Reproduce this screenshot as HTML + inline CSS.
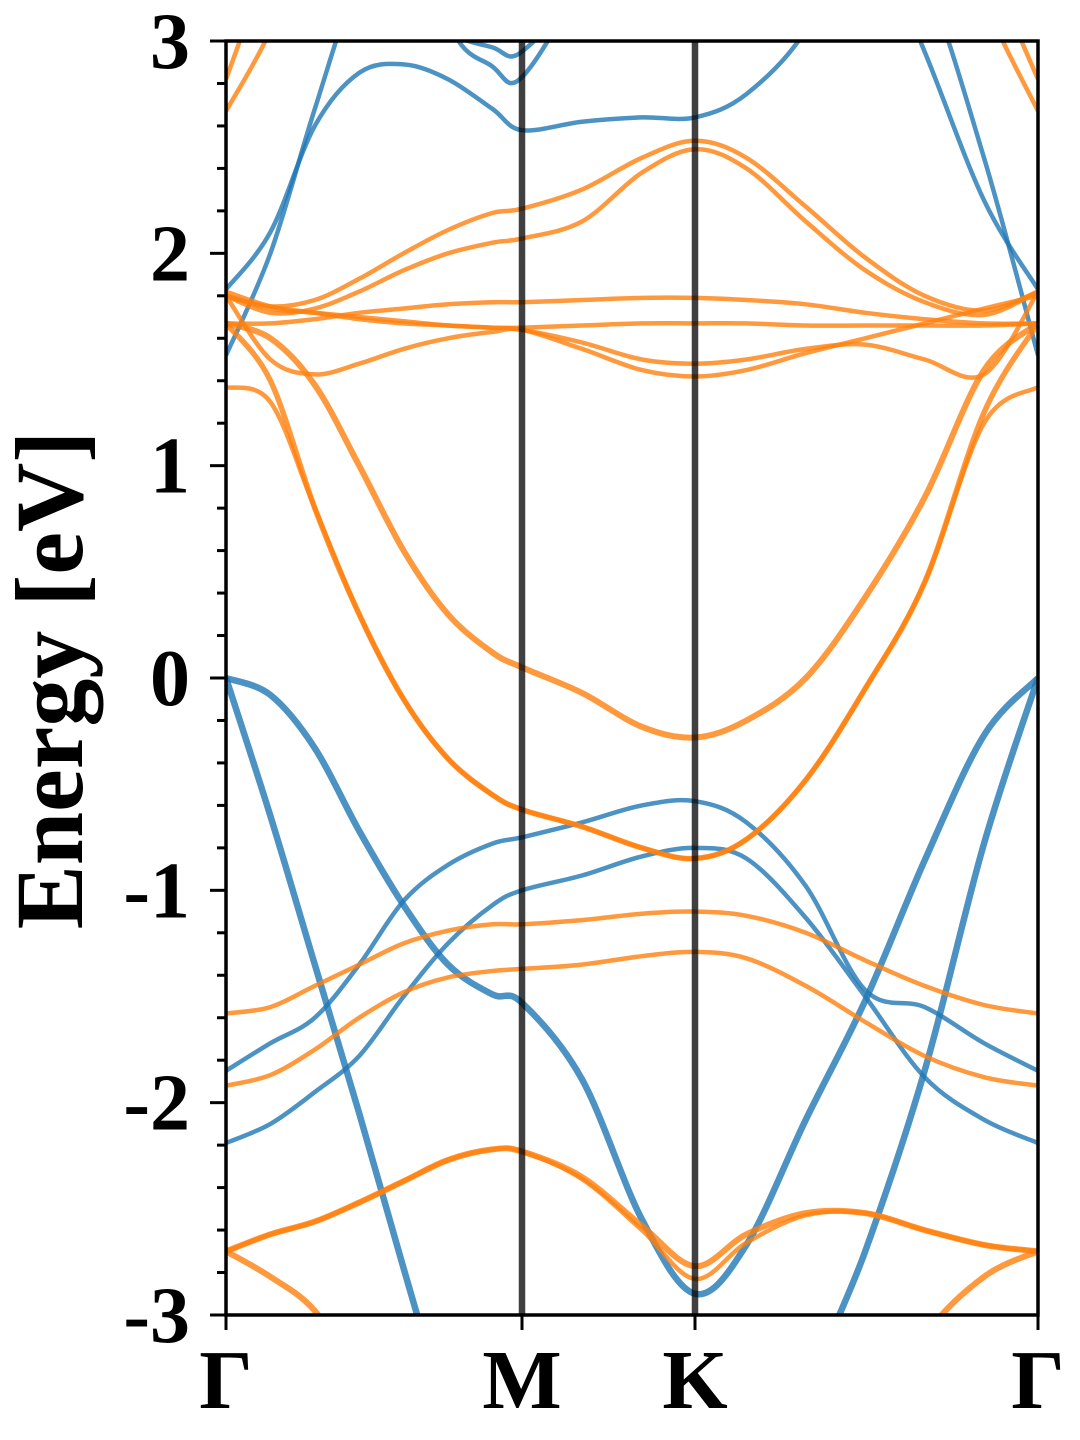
<!DOCTYPE html>
<html><head><meta charset="utf-8">
<style>
html,body{margin:0;padding:0;background:#fff;width:1080px;height:1440px;overflow:hidden;}
svg{display:block;}
text{font-family:"Liberation Serif",serif;font-weight:bold;fill:#000;}
</style></head>
<body>
<svg id="chart" width="1080" height="1440" viewBox="0 0 1080 1440" xmlns="http://www.w3.org/2000/svg">
<defs><clipPath id="plotclip"><rect x="226" y="41" width="812" height="1274"/></clipPath></defs>
<g id="bands" clip-path="url(#plotclip)"></g>
<g id="vlines"></g>
<rect x="226" y="41" width="812" height="1274" fill="none" stroke="#000" stroke-width="3.5"/>
<g id="axes"></g>
<text transform="translate(82,680) rotate(-90)" text-anchor="middle" font-size="96">Energy [eV]</text>
</svg>
<script>
const kGrid = [0,0.15,0.3,0.45,0.6,0.75,0.9,1.0,1.2,1.4,1.577,1.75,1.95,2.15,2.35,2.55,2.732];
const kLabels = ["Γ","M","K","Γ"];
const kLabelPos = [0,1.0,1.577,2.732];
const yTicks = [3,2,1,0,-1,-2,-3];
const yTickLabels = ["3","2","1","0","-1","-2","-3"];

const blueHeavyA = [0,-0.08,-0.33,-0.72,-1.07,-1.35,-1.49,-1.53,-1.89,-2.55,-2.9,-2.67,-2.08,-1.52,-0.86,-0.27,0];
const blueHeavyB = [0,-0.65,-1.35,-2.05,-2.78,-3.5,-4.2,-4.5,-4.6,-4.6,-4.6,-4.4,-3.4,-2.7,-1.85,-0.78,0];
const blueC = [-1.85,-1.72,-1.6,-1.35,-1.05,-0.88,-0.78,-0.75,-0.68,-0.6,-0.58,-0.68,-0.98,-1.47,-1.55,-1.72,-1.85];
const blueD = [-2.19,-2.1,-1.95,-1.78,-1.5,-1.25,-1.07,-1.0,-0.93,-0.84,-0.8,-0.85,-1.13,-1.5,-1.88,-2.08,-2.19];
const blueU1 = [1.52,2.0,2.68,3.3,3.6,3.8,3.9,4,4,4,4,4,4,3.7,3.3,2.45,1.52];
const blueU2 = [1.83,2.1,2.6,2.85,2.89,2.82,2.68,2.58,2.62,2.64,2.64,2.75,3.05,3.6,4,4,4];
const blueU5 = [4,4,4,4,4,4,4,4,4,4,4,4,4,3.6,2.95,2.25,1.83];
const blueU3 = [4,4,4,4,3.3,3.05,2.97,2.95,3.3,4,4,4,4,4,4,4,4];
const blueU4 = [4,4,4,4,4,3.1,2.88,2.83,3.3,4,4,4,4,4,4,4,4];

const orange1 = [1.67,1.6,1.38,1.0,0.6,0.3,0.12,0.05,-0.07,-0.23,-0.28,-0.2,0.0,0.38,0.85,1.45,1.67];
const orange2 = [1.67,1.4,0.8,0.3,-0.1,-0.38,-0.55,-0.62,-0.7,-0.8,-0.85,-0.76,-0.48,-0.05,0.45,1.25,1.67];
const orange3 = [1.37,1.3,0.8,0.3,-0.1,-0.38,-0.55,-0.62,-0.7,-0.8,-0.85,-0.76,-0.48,-0.05,0.45,1.2,1.37];
const orange4 = [1.67,1.67,1.69,1.72,1.74,1.76,1.77,1.77,1.78,1.79,1.79,1.78,1.76,1.72,1.69,1.67,1.67];
const orange5 = [1.82,1.75,1.72,1.69,1.67,1.66,1.65,1.65,1.66,1.67,1.67,1.67,1.66,1.66,1.66,1.66,1.67];
const orange6 = [1.8,1.5,1.43,1.48,1.55,1.6,1.63,1.64,1.55,1.45,1.42,1.45,1.53,1.6,1.67,1.74,1.8];
const orange7 = [1.8,1.74,1.72,1.7,1.68,1.66,1.65,1.64,1.58,1.5,1.48,1.5,1.55,1.57,1.5,1.43,1.82];
const orange8 = [1.8,1.75,1.78,1.88,2.0,2.11,2.19,2.21,2.3,2.45,2.53,2.45,2.22,1.98,1.8,1.73,1.82];
const orange9 = [1.8,1.72,1.74,1.82,1.92,2.0,2.05,2.07,2.15,2.38,2.49,2.4,2.15,1.92,1.77,1.71,1.82];
const orange10 = [2.82,3.4,4,4,4,4,4,4,4,4,4,4,4,4,4,3.4,2.82];
const orange11 = [2.67,3.05,3.6,4,4,4,4,4,4,4,4,4,4,4,4,3.2,2.67];
const orange12 = [-1.58,-1.55,-1.45,-1.35,-1.25,-1.19,-1.16,-1.16,-1.14,-1.11,-1.1,-1.12,-1.2,-1.33,-1.45,-1.54,-1.58];
const orange13 = [-1.92,-1.87,-1.75,-1.6,-1.48,-1.41,-1.38,-1.37,-1.35,-1.31,-1.29,-1.32,-1.45,-1.62,-1.78,-1.88,-1.92];
const orange14 = [-2.7,-2.62,-2.56,-2.47,-2.37,-2.27,-2.22,-2.23,-2.35,-2.58,-2.77,-2.62,-2.52,-2.52,-2.6,-2.67,-2.7];
const orange15 = [-2.7,-2.62,-2.56,-2.47,-2.37,-2.27,-2.22,-2.23,-2.36,-2.6,-2.83,-2.66,-2.53,-2.52,-2.6,-2.67,-2.7];
const orange16 = [-2.7,-2.82,-2.98,-3.3,-3.6,-4,-4,-4,-4,-4,-4,-4,-4,-3.6,-3.1,-2.82,-2.7];

const X0=226, XM=522, XK=695, X1=1038, Y0=41, Y1=1315, EMAX=3, EMIN=-3;
function xScale(k){
  if(k<=1) return X0 + k*(XM-X0);
  if(k<=1.577) return XM + (k-1)/0.577*(XK-XM);
  return XK + (k-1.577)/1.155*(X1-XK);
}
function yScale(e){ return Y0 + (EMAX-e)/(EMAX-EMIN)*(Y1-Y0); }
const NS="http://www.w3.org/2000/svg";
function pathFrom(vals){
  const p = vals.map((v,i)=>[xScale(kGrid[i]), yScale(v)]);
  let d = "M"+p[0][0].toFixed(1)+","+p[0][1].toFixed(1);
  for(let i=0;i<p.length-1;i++){
    const p0=p[Math.max(0,i-1)], p1=p[i], p2=p[i+1], p3=p[Math.min(p.length-1,i+2)];
    const c1x=p1[0]+(p2[0]-p0[0])/6, c1y=p1[1]+(p2[1]-p0[1])/6;
    const c2x=p2[0]-(p3[0]-p1[0])/6, c2y=p2[1]-(p3[1]-p1[1])/6;
    d+=" C"+c1x.toFixed(1)+","+c1y.toFixed(1)+" "+c2x.toFixed(1)+","+c2y.toFixed(1)+" "+p2[0].toFixed(1)+","+p2[1].toFixed(1);
  }
  return d;
}
const bandsG=document.getElementById('bands');
const BLUE="#1f77b4", ORANGE="#ff7f0e";
const bandList=[
 ["blue-band-heavy-a",blueHeavyA,BLUE,6.5],["blue-band-heavy-b",blueHeavyB,BLUE,6.5],
 ["blue-band-c",blueC,BLUE,4.5],["blue-band-d",blueD,BLUE,4.5],
 ["blue-band-u1",blueU1,BLUE,4.5],["blue-band-u2",blueU2,BLUE,4.5],["blue-band-u5",blueU5,BLUE,4.5],
 ["blue-band-u3",blueU3,BLUE,4.5],["blue-band-u4",blueU4,BLUE,4.5],
 ["orange-band-1",orange1,ORANGE,6],["orange-band-2",orange2,ORANGE,5.5],["orange-band-3",orange3,ORANGE,4.5],
 ["orange-band-4",orange4,ORANGE,4.5],["orange-band-5",orange5,ORANGE,4.5],["orange-band-6",orange6,ORANGE,4.5],
 ["orange-band-7",orange7,ORANGE,4.5],["orange-band-8",orange8,ORANGE,4.5],["orange-band-9",orange9,ORANGE,4.5],
 ["orange-band-10",orange10,ORANGE,4.5],["orange-band-11",orange11,ORANGE,4.5],
 ["orange-band-12",orange12,ORANGE,4.5],["orange-band-13",orange13,ORANGE,4.5],
 ["orange-band-14",orange14,ORANGE,6],["orange-band-15",orange15,ORANGE,4.5],["orange-band-16",orange16,ORANGE,6]
];
bandList.forEach(b=>{
  const el=document.createElementNS(NS,'path');
  el.setAttribute('d',pathFrom(b[1]));
  el.setAttribute('fill','none');
  el.setAttribute('stroke',b[2]);
  el.setAttribute('stroke-opacity','0.8');
  el.setAttribute('stroke-width',b[3]);
  el.setAttribute('stroke-linejoin','round');
  
  
  bandsG.appendChild(el);
});
const vG=document.getElementById('vlines');
[kLabelPos[1],kLabelPos[2]].forEach((k,i)=>{
  const l=document.createElementNS(NS,'line');
  l.setAttribute('x1',xScale(k)); l.setAttribute('x2',xScale(k));
  l.setAttribute('y1',Y0); l.setAttribute('y2',Y1);
  l.setAttribute('stroke','#000'); l.setAttribute('stroke-opacity','0.75'); l.setAttribute('stroke-width','6.5');
  
  
  vG.appendChild(l);
});
const aG=document.getElementById('axes');
for(let i=0;i<=30;i++){
  const e=EMIN+i*0.2; const y=yScale(e);
  const major=(i%5===0);
  const t=document.createElementNS(NS,'line');
  t.setAttribute('x1',226); t.setAttribute('x2',major?210:217);
  t.setAttribute('y1',y); t.setAttribute('y2',y);
  t.setAttribute('stroke','#000'); t.setAttribute('stroke-width','3');
  
  
  aG.appendChild(t);
}
yTicks.forEach((v,i)=>{
  const t=document.createElementNS(NS,'text');
  t.setAttribute('x',190); t.setAttribute('y',yScale(v)+27);
  t.setAttribute('text-anchor','end'); t.setAttribute('font-size','80');
  t.textContent=yTickLabels[i];
  
  
  aG.appendChild(t);
});
kLabelPos.forEach((k,i)=>{
  const x=xScale(k);
  const t=document.createElementNS(NS,'line');
  t.setAttribute('x1',x); t.setAttribute('x2',x);
  t.setAttribute('y1',1315); t.setAttribute('y2',1330);
  t.setAttribute('stroke','#000'); t.setAttribute('stroke-width','3');
  
  
  aG.appendChild(t);
  const lb=document.createElementNS(NS,'text');
  lb.setAttribute('x',x); lb.setAttribute('y',1408);
  lb.setAttribute('text-anchor','middle'); lb.setAttribute('font-size','84');
  lb.textContent=kLabels[i];
  
  
  aG.appendChild(lb);
});
</script>
</body></html>
